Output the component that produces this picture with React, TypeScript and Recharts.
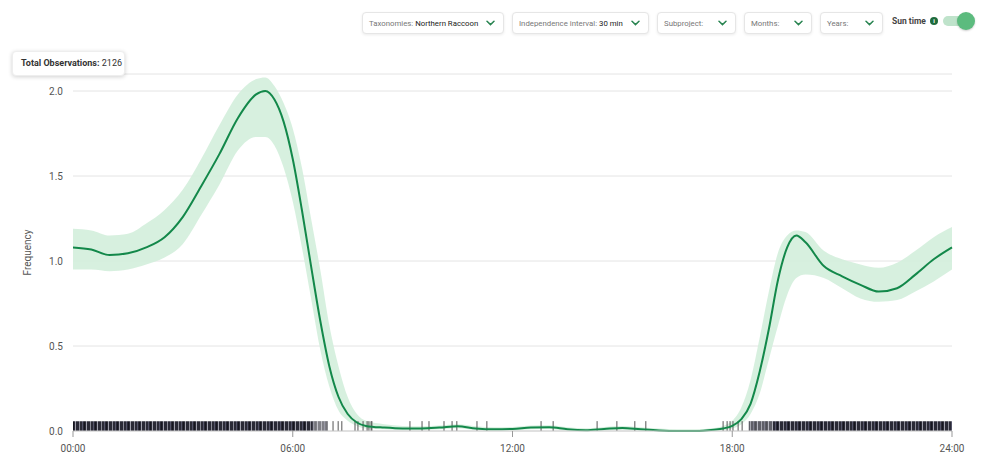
import React from 'react';
import {
  ComposedChart,
  Area,
  Line,
  XAxis,
  YAxis,
  CartesianGrid,
  ReferenceArea,
  ReferenceLine,
} from 'recharts';

// ---- data ----
const hours = [
  0, 0.5, 1, 1.5, 2, 2.5, 3, 3.5, 4, 4.5, 5, 5.25, 5.5, 5.75, 6, 6.25, 6.5, 6.75, 7, 7.25, 7.5, 7.75, 8, 8.5, 9, 9.5,
  10, 10.5, 11, 11.5, 12, 12.5, 13, 13.5, 14, 14.5, 15, 15.5, 16, 16.5, 17, 17.5, 17.75, 18, 18.25, 18.5, 18.75, 19,
  19.25, 19.5, 19.75, 20, 20.5, 21, 21.5, 22, 22.5, 23, 23.5, 24,
];
const frequency = [
  1.08, 1.068, 1.035, 1.045, 1.08, 1.14, 1.26, 1.44, 1.63, 1.84, 1.98, 2.0, 1.95, 1.82, 1.6, 1.3, 0.97, 0.65, 0.38, 0.2,
  0.1, 0.05, 0.03, 0.02, 0.015, 0.015, 0.02, 0.028, 0.015, 0.01, 0.012, 0.02, 0.022, 0.01, 0.005, 0.012, 0.018, 0.01,
  0.003, 0.0, 0.0, 0.008, 0.015, 0.03, 0.07, 0.16, 0.35, 0.6, 0.89, 1.08, 1.15, 1.11, 0.97, 0.91, 0.86, 0.82, 0.84,
  0.92, 1.01, 1.08,
];
const upperBound = [
  1.19, 1.18, 1.15, 1.16, 1.22, 1.3, 1.42, 1.6, 1.8, 1.98, 2.07, 2.08, 2.03, 1.93, 1.78, 1.55, 1.25, 0.95, 0.62, 0.38,
  0.2, 0.1, 0.06, 0.04, 0.03, 0.028, 0.032, 0.04, 0.028, 0.022, 0.024, 0.032, 0.034, 0.022, 0.016, 0.024, 0.03, 0.022,
  0.014, 0.01, 0.01, 0.018, 0.03, 0.06, 0.14, 0.3, 0.55, 0.82, 1.05, 1.15, 1.18, 1.17, 1.06, 1.01, 0.98, 0.96, 0.99,
  1.06, 1.14, 1.2,
];
const lowerBound = [
  0.95, 0.95, 0.94, 0.95, 0.98, 1.02, 1.1, 1.27, 1.45, 1.65, 1.73, 1.73, 1.68, 1.55, 1.35, 1.08, 0.78, 0.48, 0.26, 0.12,
  0.06, 0.03, 0.015, 0.01, 0.005, 0.005, 0.01, 0.016, 0.006, 0.002, 0.003, 0.01, 0.012, 0.002, 0.0, 0.003, 0.008,
  0.002, 0.0, 0.0, 0.0, 0.0, 0.005, 0.015, 0.04, 0.1, 0.22, 0.42, 0.62, 0.8, 0.9, 0.92, 0.9, 0.84, 0.78, 0.76, 0.77,
  0.82, 0.88, 0.95,
];
const xTicks = [0, 6, 12, 18, 24];
const xTickLabels = ['00:00', '06:00', '12:00', '18:00', '24:00'];
const yTicks = [0, 0.5, 1, 1.5, 2];

// rug: dense stretches of observations and isolated observation times (hours)
const rugRanges = [
  { start: 0, end: 6.55, density: 1 },
  { start: 6.55, end: 6.96, density: 0.6 },
  { start: 18.45, end: 19.1, density: 0.75 },
  { start: 19.1, end: 24, density: 1 },
];
const rugTicks = [
  7.1, 7.24, 7.34, 7.7, 7.78, 7.92, 8.03, 8.08, 8.14, 8.16, 9.2, 9.53, 9.72, 10.13, 10.35, 10.48, 11.03, 11.3, 12.78,
  13.11, 14.31, 14.85, 15.34, 15.64, 17.75, 17.86, 17.94, 18.02, 18.16, 18.27,
];
const rugHeight = 0.058;
const totalObservations = 2126;

const filters = [
  { label: 'Taxonomies:', value: 'Northern Raccoon', left: 362, width: 142 },
  { label: 'Independence interval:', value: '30 min', left: 512, width: 137 },
  { label: 'Subproject:', value: '', left: 657, width: 79 },
  { label: 'Months:', value: '', left: 744, width: 68 },
  { label: 'Years:', value: '', left: 820, width: 63 },
];

const chartData = hours.map((h, i) => ({
  hour: h,
  freq: frequency[i],
  band: [lowerBound[i], upperBound[i]],
}));

const FONT = 'Roboto, "Noto Sans", Arial, sans-serif';

function Chevron() {
  return (
    <svg width="9" height="6" viewBox="0 0 9 6" style={{ display: 'block', flexShrink: 0, marginLeft: 4 }}>
      <path d="M1 1.2 L4.5 4.6 L8 1.2" fill="none" stroke="#2a8552" strokeWidth="1.5" strokeLinecap="round" />
    </svg>
  );
}

export default function App() {
  return (
    <div
      style={{
        position: 'absolute',
        left: 0,
        top: 0,
        width: 1000,
        height: 467,
        background: '#fff',
        fontFamily: FONT,
        overflow: 'hidden',
      }}
    >
      <ComposedChart
        width={1000}
        height={467}
        data={chartData}
        margin={{ top: 74, right: 48, bottom: 6, left: 0 }}
      >
        <defs>
          <pattern id="rugPattern" patternUnits="userSpaceOnUse" width="11" height="12">
            <rect x="0" y="0" width="11" height="12" fill="#2a2a36" />
            <rect x="2" y="0" width="1" height="12" fill="#8a8a96" />
            <rect x="5" y="0" width="1" height="12" fill="#55556a" />
            <rect x="9" y="0" width="1" height="12" fill="#a0a0ac" />
            <rect x="7" y="0" width="1" height="12" fill="#15151f" />
          </pattern>
        </defs>
        <CartesianGrid vertical={false} stroke="#e4e4e4" />
        <XAxis
          dataKey="hour"
          type="number"
          domain={[0, 24]}
          ticks={xTicks}
          tickFormatter={(v: number) => xTickLabels[xTicks.indexOf(v)]}
          stroke="#cfcfcf"
          tickLine={{ stroke: '#999' }}
          tickSize={6}
          tickMargin={8}
          height={30}
          tick={{ fill: '#555', fontSize: 10, fontFamily: FONT }}
        />
        <YAxis
          type="number"
          domain={[0, 2.1]}
          ticks={yTicks}
          tickFormatter={(v: number) => v.toFixed(1)}
          axisLine={false}
          tickLine={false}
          tickMargin={4}
          width={73}
          tick={{ fill: '#555', fontSize: 10, fontFamily: FONT }}
          label={{
            value: 'Frequency',
            angle: -90,
            position: 'insideLeft',
            offset: 27,
            style: { fill: '#555', fontSize: 10, fontFamily: FONT, textAnchor: 'middle' },
          }}
        />
        {rugRanges.map((r, i) => (
          <ReferenceArea
            key={'rr' + i}
            x1={r.start}
            x2={r.end}
            y1={0}
            y2={rugHeight}
            fill="url(#rugPattern)"
            fillOpacity={r.density}
            stroke="none"
            ifOverflow="visible"
          />
        ))}
        {rugTicks.map((t, i) => (
          <ReferenceLine
            key={'rt' + i}
            segment={[
              { x: t, y: 0 },
              { x: t, y: rugHeight },
            ]}
            stroke="#555"
            strokeWidth={1}
            ifOverflow="visible"
          />
        ))}
        <Area
          type="monotone"
          dataKey="band"
          stroke="none"
          fill="#d3eedc"
          fillOpacity={0.9}
          isAnimationActive={false}
          activeDot={false}
        />
        <Line
          type="monotone"
          dataKey="freq"
          stroke="#13884a"
          strokeWidth={2}
          dot={false}
          activeDot={false}
          isAnimationActive={false}
        />
      </ComposedChart>

      {/* Total observations badge */}
      <div
        style={{
          position: 'absolute',
          left: 12,
          top: 51,
          width: 113,
          height: 25,
          boxSizing: 'border-box',
          background: '#fff',
          borderRadius: 4,
          boxShadow: '0 1px 4px rgba(0,0,0,0.18)',
          border: '1px solid #eee',
          fontSize: 9,
          lineHeight: '23px',
          color: '#333',
          paddingLeft: 8,
          whiteSpace: 'nowrap',
        }}
      >
        <span style={{ fontWeight: 700 }}>Total Observations:</span> {totalObservations}
      </div>

      {/* Filter dropdowns */}
      {filters.map((f, i) => (
        <div
          key={'f' + i}
          style={{
            position: 'absolute',
            left: f.left,
            top: 12,
            width: f.width,
            height: 22,
            boxSizing: 'border-box',
            background: '#fff',
            border: '1px solid #e6e6e6',
            borderRadius: 4,
            boxShadow: '0 1px 3px rgba(0,0,0,0.08)',
            display: 'flex',
            alignItems: 'center',
            justifyContent: 'space-between',
            padding: '0 8px 0 6px',
            fontSize: 7.8,
            whiteSpace: 'nowrap',
            overflow: 'hidden',
          }}
        >
          <span>
            <span style={{ color: '#777' }}>{f.label}</span>
            {f.value ? <span style={{ color: '#222' }}> {f.value}</span> : null}
          </span>
          <Chevron />
        </div>
      ))}

      {/* Sun time toggle */}
      <div
        style={{
          position: 'absolute',
          left: 892,
          top: 14,
          height: 14,
          display: 'flex',
          alignItems: 'center',
          fontSize: 8.5,
          fontWeight: 700,
          color: '#444',
          whiteSpace: 'nowrap',
        }}
      >
        Sun time
        <span
          style={{
            display: 'inline-block',
            width: 8,
            height: 8,
            borderRadius: 4,
            background: '#1e6b3c',
            color: '#fff',
            fontSize: 6,
            lineHeight: '8px',
            textAlign: 'center',
            marginLeft: 4,
            fontWeight: 700,
          }}
        >
          i
        </span>
      </div>
      <div
        style={{
          position: 'absolute',
          left: 943,
          top: 16,
          width: 30,
          height: 10,
          borderRadius: 5,
          background: '#bfe3cb',
        }}
      />
      <div
        style={{
          position: 'absolute',
          left: 957,
          top: 12,
          width: 18,
          height: 18,
          borderRadius: 9,
          background: '#5cbb7e',
          boxShadow: '0 1px 2px rgba(0,0,0,0.2)',
        }}
      />
    </div>
  );
}
